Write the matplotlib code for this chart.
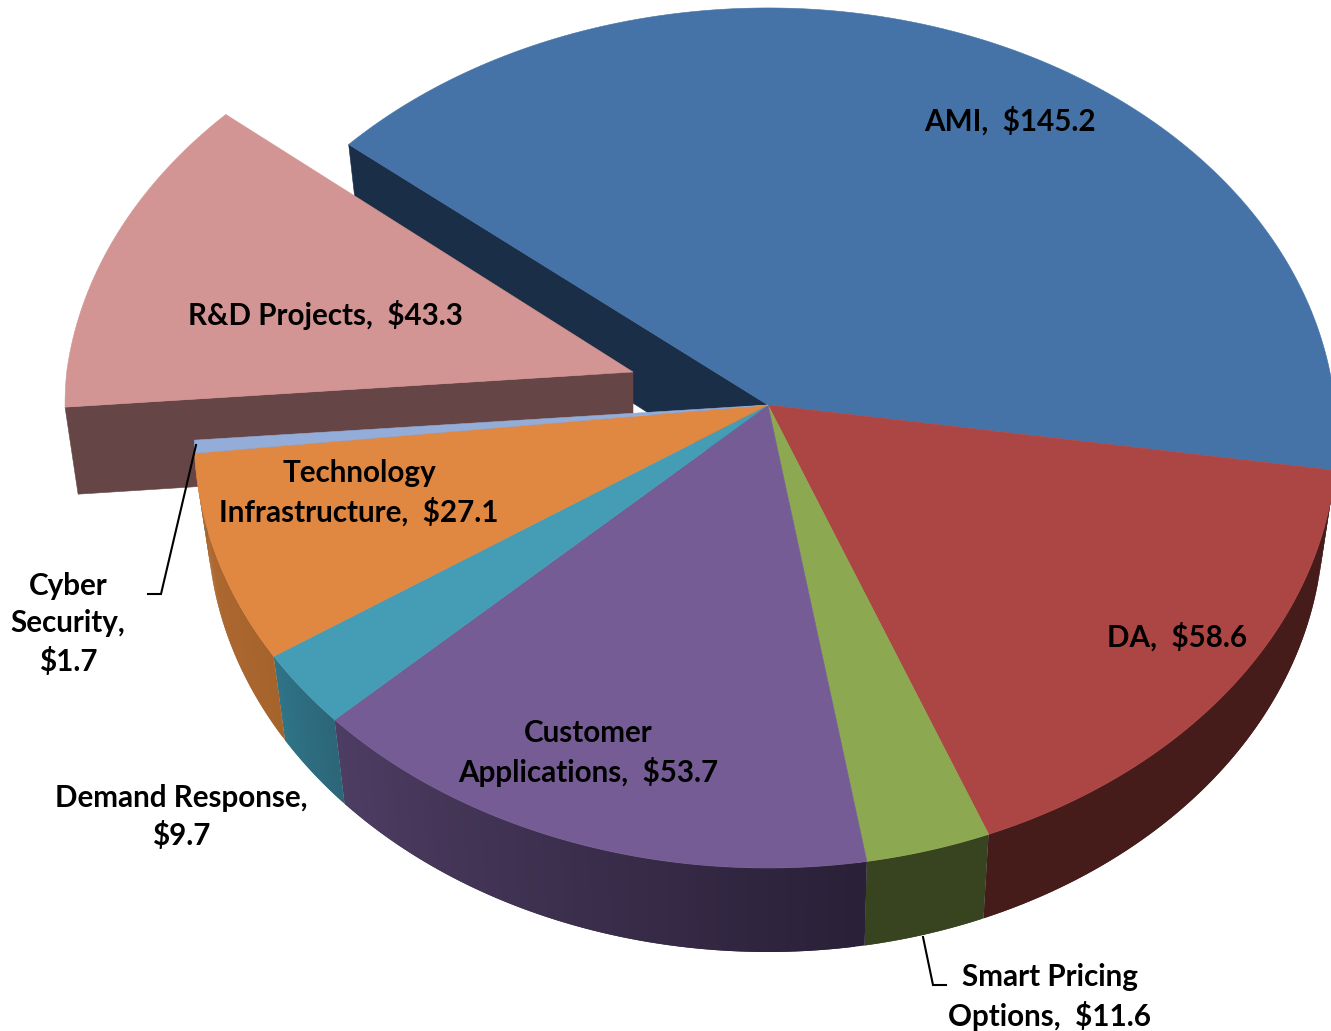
import numpy as np
import matplotlib
matplotlib.use("Agg")
import matplotlib.pyplot as plt
from matplotlib.collections import PolyCollection
from matplotlib.colors import to_rgb

plt.rcParams['font.family'] = ['Lato', 'DejaVu Sans']

# data, in pie order (clockwise from AMI)
categories = ['AMI', 'DA', 'Smart Pricing\nOptions', 'Customer\nApplications', 'Demand Response',
              'Technology\nInfrastructure', 'Cyber\nSecurity', 'R&D Projects']
values = [145.2, 58.6, 11.6, 53.7, 9.7, 27.1, 1.7, 43.3]
top_colors = ['#4573A7', '#AC4644', '#8CA850', '#755C94', '#449DB5', '#E08741', '#94ADD8', '#D39594']
wall_left = ['#1A2E47', '#461C1A', '#38431F', '#4E3D63', '#2F7488', '#B06A30', '#5A6C8C', '#664546']
wall_right = ['#1A2E47', '#461C1A', '#38431F', '#2A2038', '#2C6678', '#A6642D', '#5A6C8C', '#664546']
label_texts = ['AMI,  $145.2', 'DA,  $58.6', 'Smart Pricing\nOptions,  $11.6', 'Customer\nApplications,  $53.7',
               'Demand Response,\n$9.7', 'Technology\nInfrastructure,  $27.1', 'Cyber\nSecurity,\n$1.7',
               'R&D Projects,  $43.3']
label_xy = [(1010, 121), (1177, 637), (1050, 997), (588, 753), (181, 817), (359, 493), (68, 624), (325, 315)]

# projected-disc geometry (pixel space)
CX, CY = 768, 405
A_RIGHT, A_LEFT, B, K = 567, 572, 427.5, 0.0767
START = 8.7
DEPTH = 84
XS = 0.977
EXPLODE = (-135, -33)
EXPLODE_FAR = (8, 3)
EXPLODE_XSCALE = 0.99
EXPLODE_DEPTH_EXTRA = 3

W, H = 1331, 1031
fig = plt.figure(figsize=(W / 100, H / 100), dpi=100)
ax = fig.add_axes([0, 0, 1, 1])
ax.set_xlim(0, W)
ax.set_ylim(H, 0)
ax.axis('off')


def rim(theta_deg):
    t = np.radians(theta_deg)
    u, v = np.cos(t), np.sin(t)
    d = 1 - K * v
    a = np.where(u < 0, A_LEFT, A_RIGHT)
    return CX + a * u / d, CY + B * v / d


def lower(x, y):
    return CX + (np.asarray(x) - CX) * XS, np.asarray(y) + DEPTH


def shift(x, y, exploded):
    x, y = np.asarray(x, float), np.asarray(y, float)
    if not exploded:
        return x, y
    far = np.clip((CY - y) / 262, 0, 1)
    sx = CX + (x - CX) * EXPLODE_XSCALE
    return sx + EXPLODE[0] + EXPLODE_FAR[0] * far, y + EXPLODE[1] + EXPLODE_FAR[1] * far


def hexmix(c1, c2, f):
    a, b = np.array(to_rgb(c1)), np.array(to_rgb(c2))
    return a + (b - a) * f


def draw_top(t0, t1, color, exploded=False, z=1):
    th = np.linspace(t0, t1, 200)
    x, y = rim(th)
    x = np.r_[CX, x]
    y = np.r_[CY, y]
    x, y = shift(x, y, exploded)
    ax.fill(x, y, color=color, lw=0.4, zorder=z)


def draw_rim_wall(t0, t1, left, right, z=1):
    th = np.linspace(t0, t1, 60)
    x, y = rim(th)
    xb, yb = lower(x, y)
    quads, cols = [], []
    n = len(th) - 1
    for i in range(n):
        j = min(i + 2, n)   # overlap the next strip so no seams show
        quads.append([(x[i], y[i]), (x[j], y[j]), (xb[j], yb[j]), (xb[i], yb[i])])
        cols.append(hexmix(right, left, i / (n - 1)))
    ax.add_collection(PolyCollection(quads[::-1], facecolors=cols[::-1], edgecolors='none', zorder=z))


def draw_edge_wall(theta, color, exploded=False, z=1):
    rx, ry = rim(theta)
    xs = np.array([rx, CX])
    ys = np.array([ry, CY])
    xb, yb = lower(xs, ys)
    if exploded:
        yb = yb + EXPLODE_DEPTH_EXTRA
    px, py = shift(np.r_[xs, xb[::-1]], np.r_[ys, yb[::-1]], exploded)
    ax.fill(px, py, color=color, lw=0.4, zorder=z)


angles = np.cumsum([0] + values) / sum(values) * 360
# first slice ends at START; the rest follow clockwise in screen space
ends = START + (angles - angles[1])
bounds = [(ends[i], ends[i + 1]) for i in range(len(values))]

z = 1
# AMI: the back slice, its cut face shows beside the exploded slice
draw_edge_wall(bounds[0][0], wall_left[0], z=z)
draw_top(bounds[0][0], bounds[0][1], top_colors[0], z=z + 1)
# exploded R&D slice
i_rd = categories.index('R&D Projects')
draw_edge_wall(bounds[i_rd][0], wall_left[i_rd], exploded=True, z=z + 2)
draw_top(bounds[i_rd][0], bounds[i_rd][1], top_colors[i_rd], exploded=True, z=z + 3)
# front slices
for i in range(1, i_rd):
    draw_rim_wall(bounds[i][0], bounds[i][1], wall_left[i], wall_right[i], z=z + 4 + 0.01 * i)
for i in range(1, i_rd):
    draw_top(bounds[i][0], bounds[i][1], top_colors[i], z=z + 5)

# leader lines
ax.plot([148, 161, 196], [594, 594, 445], color='black', lw=1.5, zorder=20, solid_joinstyle='miter')
ax.plot([923, 933, 946], [937, 985, 985], color='black', lw=1.5, zorder=5, solid_joinstyle='miter')

for txt, (x, y) in zip(label_texts, label_xy):
    ax.text(x, y, txt, ha='center', va='center', fontsize=21.3, fontweight='bold',
            color='black', linespacing=1.4, zorder=30)

fig.savefig('out.png', dpi=100, facecolor='white')
